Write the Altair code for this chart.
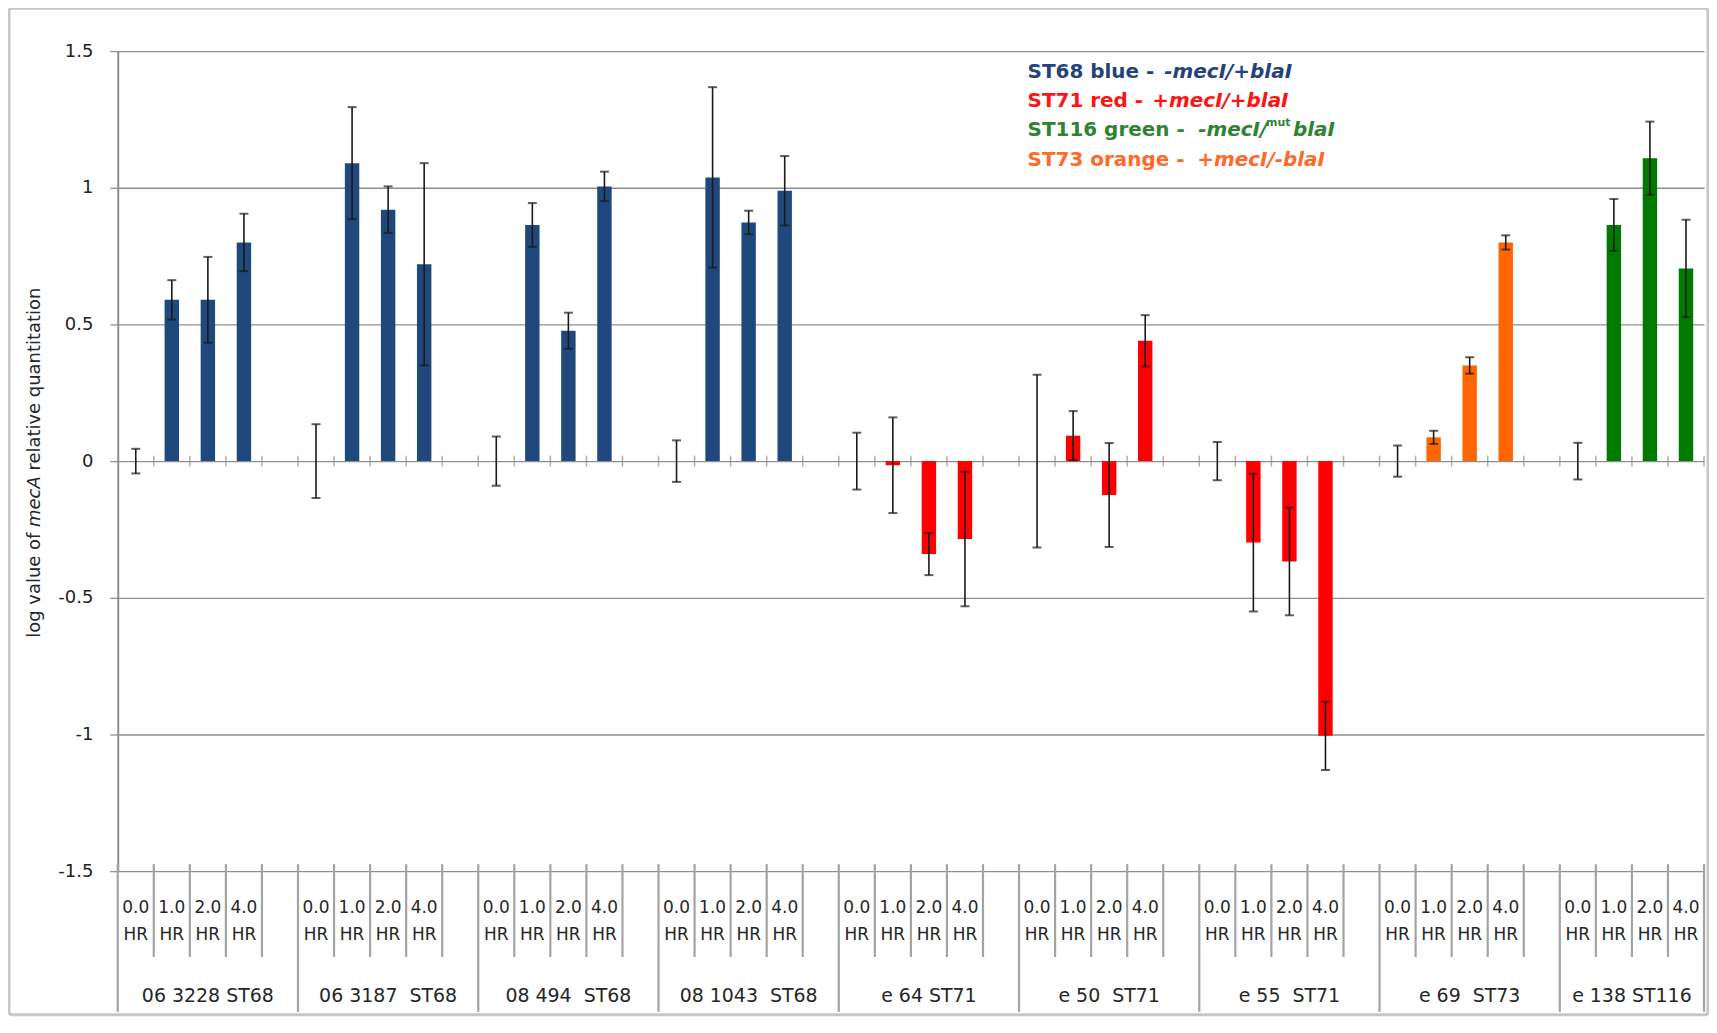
import altair as alt
import pandas as pd

# ---------------- data ----------------
groups = ["06 3228 ST68", "06 3187\u00a0 ST68", "08 494\u00a0 ST68", "08 1043\u00a0 ST68",
          "e 64 ST71", "e 50\u00a0 ST71", "e 55\u00a0 ST71", "e 69\u00a0 ST73", "e 138 ST116"]
group_strain = ["ST68", "ST68", "ST68", "ST68", "ST71", "ST71", "ST71", "ST73", "ST116"]
times = ["0.0\nHR", "1.0\nHR", "2.0\nHR", "4.0\nHR"]

values = [
    [0.0, 0.59, 0.59, 0.80],
    [0.0, 1.09, 0.92, 0.72],
    [0.0, 0.864, 0.477, 1.005],
    [0.0, 1.038, 0.873, 0.989],
    [0.0, -0.015, -0.34, -0.285],
    [0.0, 0.093, -0.124, 0.44],
    [0.0, -0.298, -0.367, -1.005],
    [0.0, 0.087, 0.35, 0.80],
    [0.0, 0.864, 1.108, 0.705],
]
errors = [
    [0.045, 0.072, 0.157, 0.105],
    [0.135, 0.205, 0.085, 0.37],
    [0.09, 0.08, 0.066, 0.054],
    [0.076, 0.33, 0.043, 0.127],
    [0.104, 0.175, 0.077, 0.246],
    [0.316, 0.09, 0.19, 0.094],
    [0.07, 0.252, 0.197, 0.125],
    [0.057, 0.024, 0.03, 0.026],
    [0.067, 0.095, 0.134, 0.178],
]

strain_domain = ["ST68", "ST71", "ST73", "ST116"]
strain_colors = ["#1F497D", "#FF0000", "#FF6600", "#007A00"]
y_ticks = [-1.5, -1.0, -0.5, 0.0, 0.5, 1.0, 1.5]

# ---------------- tables ----------------
SLOTS_PER_GROUP = 5
n_slots = SLOTS_PER_GROUP * (len(groups) - 1) + len(times)

rows = []
for g, grp in enumerate(groups):
    for t, tm in enumerate(times):
        s = SLOTS_PER_GROUP * g + t
        v = values[g][t]
        e = errors[g][t]
        rows.append(dict(group=grp, strain=group_strain[g], time=tm, v=v,
                         lo=v - e, hi=v + e, xc=s + 0.5, x0=s + 0.3, x1=s + 0.7))
df = pd.DataFrame(rows)
bars_df = df[df.v != 0]

grp_rows = []
for g, grp in enumerate(groups):
    start = SLOTS_PER_GROUP * g
    end = min(start + SLOTS_PER_GROUP, n_slots)
    grp_rows.append(dict(group=grp, gc=(start + end) / 2))
grp_df = pd.DataFrame(grp_rows)

bounds = pd.DataFrame({"b": list(range(n_slots + 1))})
bounds["major"] = (bounds.b % SLOTS_PER_GROUP == 0) | (bounds.b == n_slots)

# ---------------- scales / axes ----------------
W, H = 1590, 822
GRID = "#8e8e8e"
FONT = "DejaVu Sans"

xscale = alt.Scale(domain=[0, n_slots], nice=False, zero=False)
yscale = alt.Scale(domain=[-1.5, 1.5], nice=False, zero=False)
yaxis = alt.Axis(values=y_ticks, labelExpr="datum.value + ''", grid=True,
                 gridColor=GRID, gridWidth=1.3, domainColor=GRID, domainWidth=2,
                 tickColor=GRID, tickSize=8, tickWidth=1.3, labelFont=FONT,
                 labelFontSize=18, labelColor="#222222", labelPadding=17,
                 labelFlush=False, title=None)

one = pd.DataFrame({"a": [0]})


def ann(text, x, y, **kw):
    return alt.Chart(one).mark_text(text=text, **kw).encode(
        x=alt.value(x), y=alt.value(y))


zero_ticks = alt.Chart(bounds[bounds.b > 0]).mark_tick(
    orient="vertical", size=11, thickness=1.5, color=GRID).encode(
    x=alt.X("b:Q", scale=xscale, axis=None),
    y=alt.Y("zero:Q", scale=yscale, axis=yaxis)).transform_calculate(zero="0")

bars = alt.Chart(bars_df).mark_bar().encode(
    x=alt.X("x0:Q", scale=xscale, axis=None),
    x2="x1:Q",
    y=alt.Y("v:Q", scale=yscale, axis=yaxis),
    y2=alt.datum(0),
    color=alt.Color("strain:N", scale=alt.Scale(domain=strain_domain, range=strain_colors),
                    legend=None),
)

ERR = "#1a1a1a"
err_rule = alt.Chart(df).mark_rule(color=ERR, strokeWidth=1.6).encode(
    x=alt.X("xc:Q", scale=xscale, axis=None),
    y=alt.Y("lo:Q", scale=yscale, axis=yaxis), y2="hi:Q")
cap_lo = alt.Chart(df).mark_tick(orient="horizontal", size=9, thickness=2, color=ERR).encode(
    x=alt.X("xc:Q", scale=xscale, axis=None),
    y=alt.Y("lo:Q", scale=yscale, axis=yaxis))
cap_hi = alt.Chart(df).mark_tick(orient="horizontal", size=9, thickness=2, color=ERR).encode(
    x=alt.X("xc:Q", scale=xscale, axis=None),
    y=alt.Y("hi:Q", scale=yscale, axis=yaxis))

SEP = "#a3a3a3"
minor_sep = alt.Chart(bounds[~bounds.major]).mark_rule(color=SEP, strokeWidth=2.2).encode(
    x=alt.X("b:Q", scale=xscale, axis=None), y=alt.value(815), y2=alt.value(908))
major_sep = alt.Chart(bounds[bounds.major]).mark_rule(color=SEP, strokeWidth=2.2).encode(
    x=alt.X("b:Q", scale=xscale, axis=None), y=alt.value(815), y2=alt.value(963))

slot_labels = alt.Chart(df).mark_text(
    lineBreak="\n", font=FONT, fontSize=17, lineHeight=27, baseline="middle",
    color="#262626").encode(
    x=alt.X("xc:Q", scale=xscale, axis=None), y=alt.value(859), text="time:N")

group_labels = alt.Chart(grp_df).mark_text(
    font=FONT, fontSize=19, baseline="middle", color="#262626").encode(
    x=alt.X("gc:Q", scale=xscale, axis=None), y=alt.value(947), text="group:N")

# y-axis title with italic gene name (reads bottom-to-top)
TFS = 18
ytitle = [
    ann("log value of", -83, 588, font=FONT, fontSize=TFS, angle=270, align="left",
        baseline="middle", color="#262626"),
    ann("mecA", -83, 477, font=FONT, fontSize=TFS, angle=270, align="left",
        baseline="middle", fontStyle="italic", color="#262626"),
    ann("relative quantitation", -83, 420.5, font=FONT, fontSize=TFS, angle=270,
        align="left", baseline="middle", color="#262626"),
]

# coloured text key
LFS = 20
kw = dict(font=FONT, fontSize=LFS, fontWeight="bold", align="left", baseline="alphabetic")
kwi = dict(kw, fontStyle="italic")
BLUE_T, RED_T, GREEN_T, ORANGE_T = "#24437A", "#FF1414", "#2E8430", "#FF6A2A"
legend = [
    ann("ST68 blue -", 912, 27, color=BLUE_T, **kw),
    ann("-mecI/+blaI", 1049, 27, color=BLUE_T, **kwi),
    ann("ST71 red -", 912, 56, color=RED_T, **kw),
    ann("+mecI/+blaI", 1037, 56, color=RED_T, **kwi),
    ann("ST116 green -", 912, 85, color=GREEN_T, **kw),
    ann("-mecI/", 1083, 85, color=GREEN_T, **kwi),
    ann("mut", 1151, 75, color=GREEN_T, font=FONT, fontSize=11, fontWeight="bold",
        align="left", baseline="alphabetic"),
    ann("blaI", 1178, 85, color=GREEN_T, **kwi),
    ann("ST73 orange -", 912, 115, color=ORANGE_T, **kw),
    ann("+mecI/-blaI", 1082, 115, color=ORANGE_T, **kwi),
]

frame = alt.Chart(one).mark_rect(fillOpacity=0, stroke="#c6c6c6", strokeWidth=3,
                                 cornerRadius=3).encode(
    x=alt.value(-109), x2=alt.value(1594), y=alt.value(-43), y2=alt.value(966))

chart = alt.layer(
    frame, zero_ticks, bars, err_rule, cap_lo, cap_hi,
    minor_sep, major_sep, slot_labels, group_labels, *ytitle, *legend
).properties(
    width=W, height=H,
    autosize=alt.AutoSizeParams(type="none"),
    padding={"left": 110, "top": 42, "right": 5, "bottom": 145},
    background="white",
).configure_view(strokeWidth=0)

chart.save("out.html", embed_options={"renderer": "svg", "actions": False})
